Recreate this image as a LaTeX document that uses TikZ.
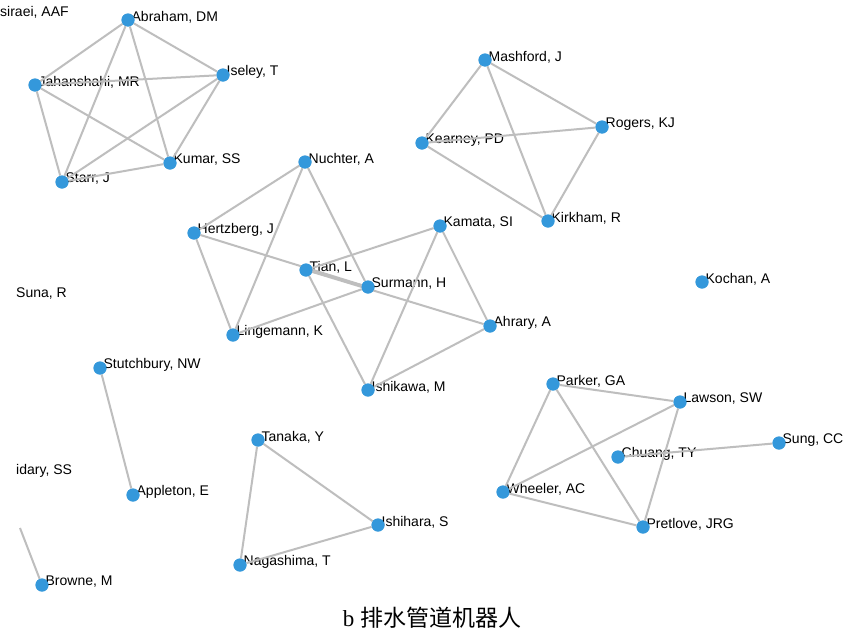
\documentclass[tikz,border=0pt]{standalone}
\usepackage{fontspec}
\setmainfont{Liberation Sans}
\newfontfamily\cjk{Noto Sans CJK SC}
\newfontfamily\serifb{Liberation Serif}
\definecolor{dotblue}{RGB}{52,152,219}
\definecolor{edgegray}{RGB}{190,190,190}
\begin{document}
\begin{tikzpicture}[x=1pt,y=1pt,yscale=-1,
  author/.style={circle,fill=dotblue,inner sep=0pt,minimum size=13,
    label={[anchor=west,xshift=-4,yshift=3,inner sep=0.75pt,font=\fontsize{14}{15}\selectfont]right:#1}},
  coauthor/.style={draw=edgegray,line width=2}]
\useasboundingbox (0,0) rectangle (865,643);
\fill[white] (0,0) rectangle (865,643);

% Nodes
\node[author={Abraham, DM}] (abraham) at (128,20) {};
\node[author={Jahanshahi, MR}] (jahanshahi) at (35,85) {};
\node[author={Iseley, T}] (iseley) at (223,75) {};
\node[author={Kumar, SS}] (kumar) at (170,163) {};
\node[author={Starr, J}] (starr) at (62,182) {};
\node[author={Mashford, J}] (mashford) at (485,60) {};
\node[author={Kearney, PD}] (kearney) at (422,143) {};
\node[author={Rogers, KJ}] (rogers) at (602,127) {};
\node[author={Kirkham, R}] (kirkham) at (548,221) {};
\node[author={Nuchter, A}] (nuchter) at (305,162) {};
\node[author={Hertzberg, J}] (hertzberg) at (194,233) {};
\node[author={Tian, L}] (tian) at (306,270) {};
\node[author={Surmann, H}] (surmann) at (368,287) {};
\node[author={Lingemann, K}] (lingemann) at (233,335) {};
\node[author={Kamata, SI}] (kamata) at (440,226) {};
\node[author={Ahrary, A}] (ahrary) at (490,326) {};
\node[author={Ishikawa, M}] (ishikawa) at (368,390) {};
\node[author={Kochan, A}] (kochan) at (702,282) {};
\node[author={Stutchbury, NW}] (stutchbury) at (100,368) {};
\node[author={Appleton, E}] (appleton) at (133,495) {};
\node[author={Tanaka, Y}] (tanaka) at (258,440) {};
\node[author={Ishihara, S}] (ishihara) at (378,525) {};
\node[author={Nagashima, T}] (nagashima) at (240,565) {};
\node[author={Parker, GA}] (parker) at (553,384) {};
\node[author={Lawson, SW}] (lawson) at (680,402) {};
\node[author={Chuang, TY}] (chuang) at (618,457) {};
\node[author={Sung, CC}] (sung) at (779,443) {};
\node[author={Wheeler, AC}] (wheeler) at (503,492) {};
\node[author={Pretlove, JRG}] (pretlove) at (643,527) {};
\node[author={Browne, M}] (browne) at (42,585) {};
\coordinate (offscreen) at (20,528);

% cut-off labels
\node[anchor=west,inner sep=0pt,font=\fontsize{14}{15}\selectfont] (israeli) at (0,12) {siraei, AAF};
\node[anchor=west,inner sep=0pt,font=\fontsize{14}{15}\selectfont] (suna) at (16,294) {Suna, R};
\node[anchor=west,inner sep=0pt,font=\fontsize{14}{15}\selectfont] (saidary) at (16,471) {idary, SS};

% Edges
\foreach \a/\b in {abraham/jahanshahi,abraham/iseley,abraham/kumar,abraham/starr,
  jahanshahi/iseley,jahanshahi/kumar,jahanshahi/starr,iseley/kumar,iseley/starr,starr/kumar,
  mashford/kearney,mashford/rogers,mashford/kirkham,kearney/rogers,kearney/kirkham,rogers/kirkham,
  nuchter/hertzberg,nuchter/lingemann,nuchter/surmann,hertzberg/lingemann,hertzberg/surmann,
  lingemann/surmann,tian/surmann,tian/kamata,tian/ahrary,tian/ishikawa,kamata/ahrary,
  kamata/ishikawa,ahrary/ishikawa,stutchbury/appleton,tanaka/ishihara,tanaka/nagashima,
  nagashima/ishihara,parker/lawson,parker/wheeler,parker/pretlove,lawson/wheeler,
  lawson/pretlove,wheeler/pretlove,chuang/sung,browne/offscreen}
  \draw[coauthor] (\a) -- (\b);
% redraw dots on top
\foreach \n in {abraham,jahanshahi,iseley,kumar,starr,mashford,kearney,rogers,kirkham,
  nuchter,hertzberg,tian,surmann,lingemann,kamata,ahrary,ishikawa,kochan,stutchbury,
  appleton,tanaka,ishihara,nagashima,parker,lawson,chuang,sung,wheeler,pretlove,browne}
  \fill[dotblue] (\n) circle (6.5);

% Caption
\node[font=\fontsize{23}{25}\selectfont] (caption) at (432,618) {\serifb b {\cjk 排水管道机器人}};
\end{tikzpicture}
\end{document}
